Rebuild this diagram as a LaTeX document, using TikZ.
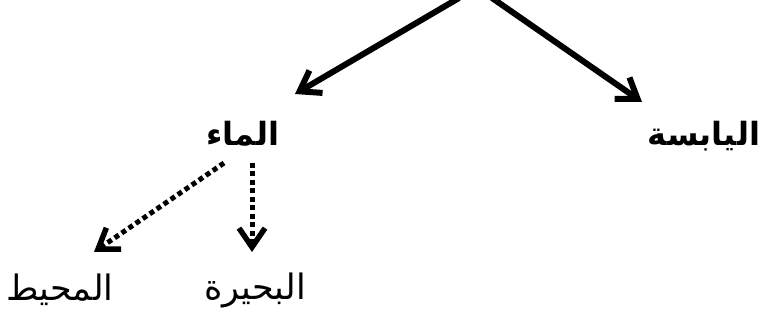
\documentclass[tikz,border=0pt]{standalone}
\usepackage{fontspec}
\usetikzlibrary{arrows.meta}
\TeXXeTstate=1
\newfontfamily\arabicfont[Script=Arabic]{DejaVu Sans}
\begin{document}
\begin{tikzpicture}[x=1pt,y=-1pt,
  lbl/.style={font=\arabicfont\fontsize{35}{40}\selectfont, inner sep=0pt},
  blbl/.style={font=\arabicfont\bfseries\fontsize{32}{38}\selectfont, inner sep=0pt},
  bigarrow/.style={line width=6pt, -{Straight Barb[length=19pt,width=26pt,line width=6pt]}},
  dotarrow/.style={line width=5pt, dash pattern=on 5pt off 3.5pt, -{Straight Barb[length=19pt,width=26pt,line width=5.5pt,line join=miter]}}]
\useasboundingbox (0,0) rectangle (763,320);
\coordinate (top1) at (459,-2);
\coordinate (top2) at (492,-2);
\node[blbl] (water) at (243,134) {\beginR الماء\endR};
\node[blbl] (land) at (704,136) {\beginR اليابسة\endR};
\node[lbl] (ocean) at (60,290) {\beginR المحيط\endR};
\node[lbl] (lake) at (255,290) {\beginR البحيرة\endR};
\coordinate (t1) at (295,94);
\coordinate (t2) at (642,102);
\coordinate (s1) at (224,163);
\coordinate (e1) at (94,252);
\coordinate (s2) at (252,163);
\coordinate (e2) at (252,252);
\draw[bigarrow] (top1) -- (t1);
\draw[bigarrow] (top2) -- (t2);
\draw[dotarrow] (s1) -- (e1);
\draw[dotarrow] (s2) -- (e2);
\end{tikzpicture}
\end{document}
